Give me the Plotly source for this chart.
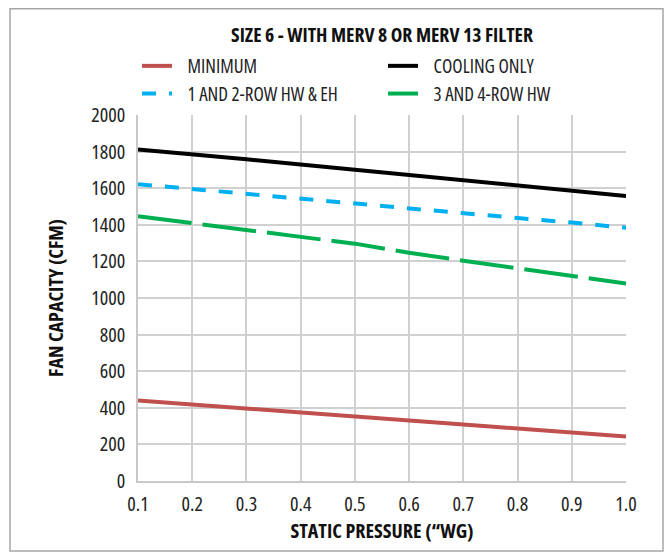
import plotly.graph_objects as go

pressure = [0.1, 0.2, 0.3, 0.4, 0.5, 0.6, 0.7, 0.8, 0.9, 1.0]
minimum = [440, 419, 397, 375, 355, 331, 309, 287, 265, 243]
cooling_only = [1812, 1787, 1758, 1730, 1702, 1672, 1646, 1618, 1590, 1558]
hw_eh_1_2 = [1622, 1595, 1568, 1542, 1518, 1490, 1464, 1437, 1412, 1384]
hw_3_4 = [1447, 1408, 1371, 1334, 1297, 1247, 1204, 1161, 1117, 1079]

series_names = ["MINIMUM", "COOLING ONLY", "1 AND 2-ROW HW &amp; EH", "3 AND 4-ROW HW"]

y_ticks = list(range(0, 2001, 200))
y_tick_labels = [str(v) for v in y_ticks]
x_ticks = pressure
x_tick_labels = ["0.1", "0.2", "0.3", "0.4", "0.5", "0.6", "0.7", "0.8", "0.9", "1.0"]

FONT = "Open Sans"


def cond(t):
    return "<span style='font-stretch:75%'>" + t + "</span>"


def leg(t):
    return cond("&nbsp;&nbsp;&nbsp;" + t)


fig = go.Figure()
fig.add_trace(go.Scatter(x=pressure, y=minimum, mode="lines", name=leg(series_names[0]),
                         line=dict(color="#c0504d", width=4)))
fig.add_trace(go.Scatter(x=pressure, y=cooling_only, mode="lines", name=leg(series_names[1]),
                         line=dict(color="#000000", width=4)))
fig.add_trace(go.Scatter(x=pressure, y=hw_eh_1_2, mode="lines", name=leg(series_names[2]),
                         line=dict(color="#00b0f0", width=4, dash="14px,13px")))
fig.add_trace(go.Scatter(x=pressure, y=hw_3_4, mode="lines", name=leg(series_names[3]),
                         line=dict(color="#00b050", width=4, dash="54px,11px")))

# figure is drawn inside the page's 8px body margin
W, H = 664, 546
L, R, T, B = 130, 46, 107, 73
pw, ph = W - L - R, H - T - B


def px_x(x):
    return (x - L) / pw


def px_y(y):
    return (H - B - y) / ph


fig.update_layout(
    width=W, height=H,
    margin=dict(l=L, r=R, t=T, b=B, autoexpand=False),
    paper_bgcolor="white", plot_bgcolor="white",
    font=dict(family=FONT, size=19, color="#222222"),
    title=dict(text=cond("<b>SIZE 6 - WITH MERV 8 OR MERV 13 FILTER</b>"),
               x=px_x(374), xanchor="center", xref="paper",
               y=1 - 27 / H, yanchor="middle",
               font=dict(family=FONT, size=19.6, color="#111111")),
    showlegend=True,
    legend=dict(orientation="h", x=px_x(129), xanchor="left",
                y=px_y(39), yanchor="top",
                entrywidth=201, entrywidthmode="pixels",
                font=dict(family=FONT, size=19, color="#222222"),
                bgcolor="rgba(0,0,0,0)", tracegroupgap=0),
    shapes=[dict(type="rect", xref="paper", yref="paper",
                 x0=px_x(2), x1=px_x(655), y0=px_y(543), y1=px_y(0.8),
                 line=dict(color="#a6a6a6", width=1.5), fillcolor="rgba(0,0,0,0)",
                 layer="below")],
)

fig.update_xaxes(range=[0.1, 1.0], tickvals=x_ticks, ticktext=[cond(t) for t in x_tick_labels],
                 showgrid=True, gridcolor="#d0d0d0", gridwidth=1.5,
                 showline=True, linecolor="#c8c8c8", linewidth=1.5,
                 ticks="outside", ticklen=4, tickcolor="rgba(0,0,0,0)", zeroline=False,
                 automargin=False,
                 tickfont=dict(family=FONT, size=20, color="#222222"),
                 title=dict(text=cond("<b>STATIC PRESSURE (\u201cWG)</b>"), standoff=8,
                            font=dict(family=FONT, size=20, color="#111111")))
fig.update_yaxes(range=[0, 2000], tickvals=y_ticks, ticktext=[cond(t) for t in y_tick_labels],
                 showgrid=True, gridcolor="#d0d0d0", gridwidth=1.5,
                 showline=True, linecolor="#c8c8c8", linewidth=1.5,
                 ticks="outside", ticklen=7, tickcolor="rgba(0,0,0,0)", zeroline=False,
                 automargin=False,
                 tickfont=dict(family=FONT, size=20, color="#222222"),
                 title=dict(text=cond("<b>FAN CAPACITY (CFM)</b>"), standoff=22,
                            font=dict(family=FONT, size=20, color="#111111")))

fig.write_html("out.html")
